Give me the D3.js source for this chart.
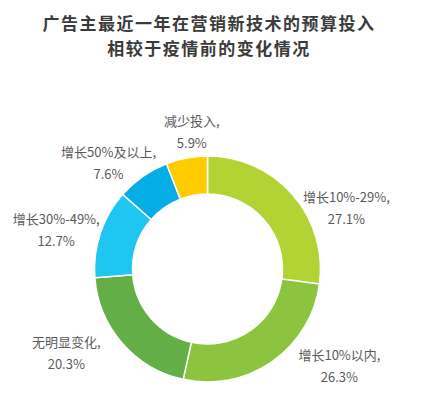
<!DOCTYPE html>
<html>
<head>
<meta charset="utf-8">
<script src="https://cdn.jsdelivr.net/npm/d3@7"></script>
<style>
  body { margin: 0; background: #fff; }
  text { font-family: "Noto Sans CJK SC", "Noto Sans", sans-serif; }
</style>
</head>
<body>
<svg id="chart" width="425" height="398"></svg>
<script>
const categories = ["增长10%-29%", "增长10%以内", "无明显变化", "增长30%-49%", "增长50%及以上", "减少投入"];
const values = [27.1, 26.3, 20.3, 12.7, 7.6, 5.9];
const colors = ["#b3d334", "#8cc43f", "#63ae46", "#1fc6f1", "#04ade5", "#ffcc00"];
const titleLines = ["广告主最近一年在营销新技术的预算投入", "相较于疫情前的变化情况"];

// label nudges from the arc centroid (px)
const labelShift = [[26, 38], [46, -25], [-28, -14], [-9, 9], [-13, 17], [12, 11]];

const svg = d3.select("#chart");
const cx = 207.5, cy = 269;
const outerR = 113, innerR = 75;

// title
svg.append("g")
  .selectAll("text")
  .data(titleLines)
  .enter()
  .append("text")
  .attr("x", 209)
  .attr("y", (d, i) => 30 + i * 25)
  .attr("text-anchor", "middle")
  .attr("font-size", 17)
  .attr("letter-spacing", 1.5)
  .attr("font-weight", "bold")
  .attr("fill", "#3b3b3b")
  .text(d => d);

const data = categories.map((c, i) => ({ name: c, value: values[i], color: colors[i], shift: labelShift[i] }));

const pie = d3.pie().sort(null).value(d => d.value);
const arcs = pie(data);

const arc = d3.arc().innerRadius(innerR).outerRadius(outerR);
const labelArc = d3.arc().innerRadius(150).outerRadius(150);

const g = svg.append("g").attr("transform", `translate(${cx},${cy})`);

g.selectAll("path")
  .data(arcs)
  .enter()
  .append("path")
  .attr("d", arc)
  .attr("fill", d => d.data.color)
  .attr("stroke", "#fff")
  .attr("stroke-width", 1.5);

const labels = g.selectAll(".label")
  .data(arcs)
  .enter()
  .append("g")
  .attr("class", "label")
  .attr("transform", d => {
    const [x, y] = labelArc.centroid(d);
    return `translate(${x + d.data.shift[0]},${y + d.data.shift[1]})`;
  });

labels.append("text")
  .attr("text-anchor", "middle")
  .attr("y", -11 + 4.5)
  .attr("font-size", 13)
  .attr("fill", "#595959")
  .text(d => d.data.name + ",");

labels.append("text")
  .attr("text-anchor", "middle")
  .attr("y", 11 + 4.5)
  .attr("font-size", 13)
  .attr("fill", "#595959")
  .text(d => d.data.value.toFixed(1) + "%");
</script>
</body>
</html>
